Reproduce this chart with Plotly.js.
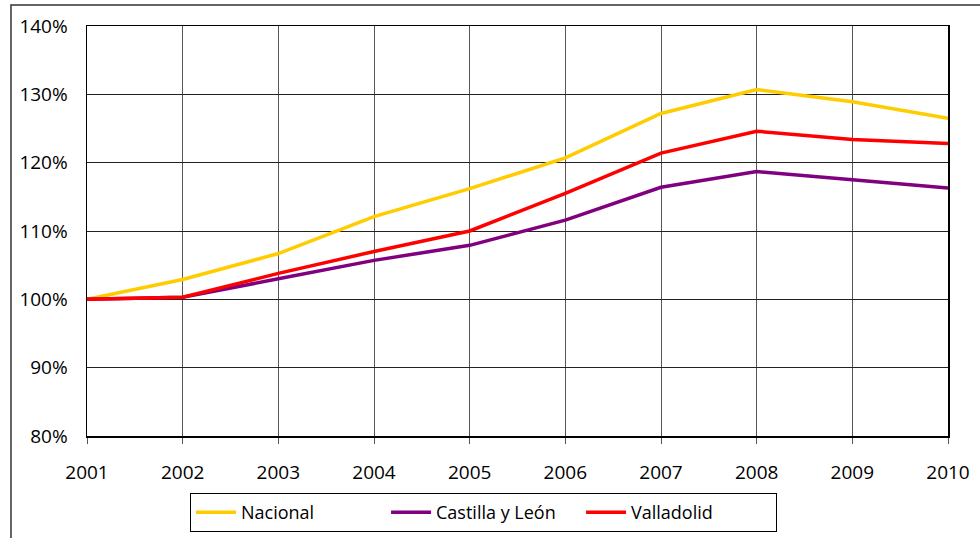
<!DOCTYPE html>
<html>
<head>
<meta charset="utf-8">
<script src="https://cdn.plot.ly/plotly-3.0.1.min.js"></script>
<style>html,body{margin:0;padding:0;background:#fff;}#chart{width:980px;height:538px;}</style>
</head>
<body>
<div id="chart"></div>
<script>
const years = [2001, 2002, 2003, 2004, 2005, 2006, 2007, 2008, 2009, 2010];
const nacional = [100.0, 102.9, 106.7, 112.1, 116.2, 120.7, 127.2, 130.7, 128.9, 126.5];
const castilla = [100.0, 100.3, 103.0, 105.7, 107.9, 111.6, 116.4, 118.7, 117.5, 116.3];
const valladolid = [100.0, 100.3, 103.8, 107.0, 110.0, 115.5, 121.4, 124.6, 123.4, 122.8];
const seriesNames = ['Nacional', 'Castilla y León', 'Valladolid'];
const seriesColors = ['#FFCC00', '#800080', '#FF0000'];

const data = [nacional, castilla, valladolid].map((vals, i) => ({
  x: years, y: vals, name: seriesNames[i], type: 'scatter', mode: 'lines',
  line: {color: seriesColors[i], width: 3.5}
}));

const layout = {
  width: 980, height: 538,
  margin: {l: 87, r: 32, t: 26, b: 102},
  paper_bgcolor: '#fff', plot_bgcolor: '#fff',
  font: {family: 'Open Sans, sans-serif', size: 17, color: '#000'},
  xaxis: {
    range: [2001, 2010], dtick: 1, tick0: 2001, automargin: false,
    showgrid: true, gridcolor: '#555', gridwidth: 1,
    showline: true, linecolor: '#000', linewidth: 1.5, mirror: true,
    ticks: 'outside', ticklen: 6, tickcolor: '#555',
    ticklabelstandoff: 13, zeroline: false,
    tickfont: {size: 19}
  },
  yaxis: {
    range: [80, 140], dtick: 10, ticksuffix: '%', automargin: false,
    showgrid: true, gridcolor: '#222', gridwidth: 1,
    showline: true, linecolor: '#000', linewidth: 1.5, mirror: true,
    ticks: '', ticklabelstandoff: 14, zeroline: false,
    tickfont: {size: 19}
  },
  showlegend: true,
  legend: {
    orientation: 'h', xref: 'container', yref: 'container',
    x: 0.4934, xanchor: 'center', y: 0.0836, yanchor: 'top',
    bordercolor: '#000', borderwidth: 1, bgcolor: '#fff',
    font: {size: 18}, itemwidth: 40, tracegroupgap: 0,
    entrywidth: 140
  },
  shapes: [{
    type: 'rect', xref: 'paper', yref: 'paper',
    x0: -0.0883, x1: 1.3, y0: -0.5, y1: 1.0512,
    line: {color: '#333', width: 1.5}, layer: 'below'
  }]
};

Plotly.newPlot('chart', data, layout, {displayModeBar: false, staticPlot: true});
</script>
</body>
</html>
